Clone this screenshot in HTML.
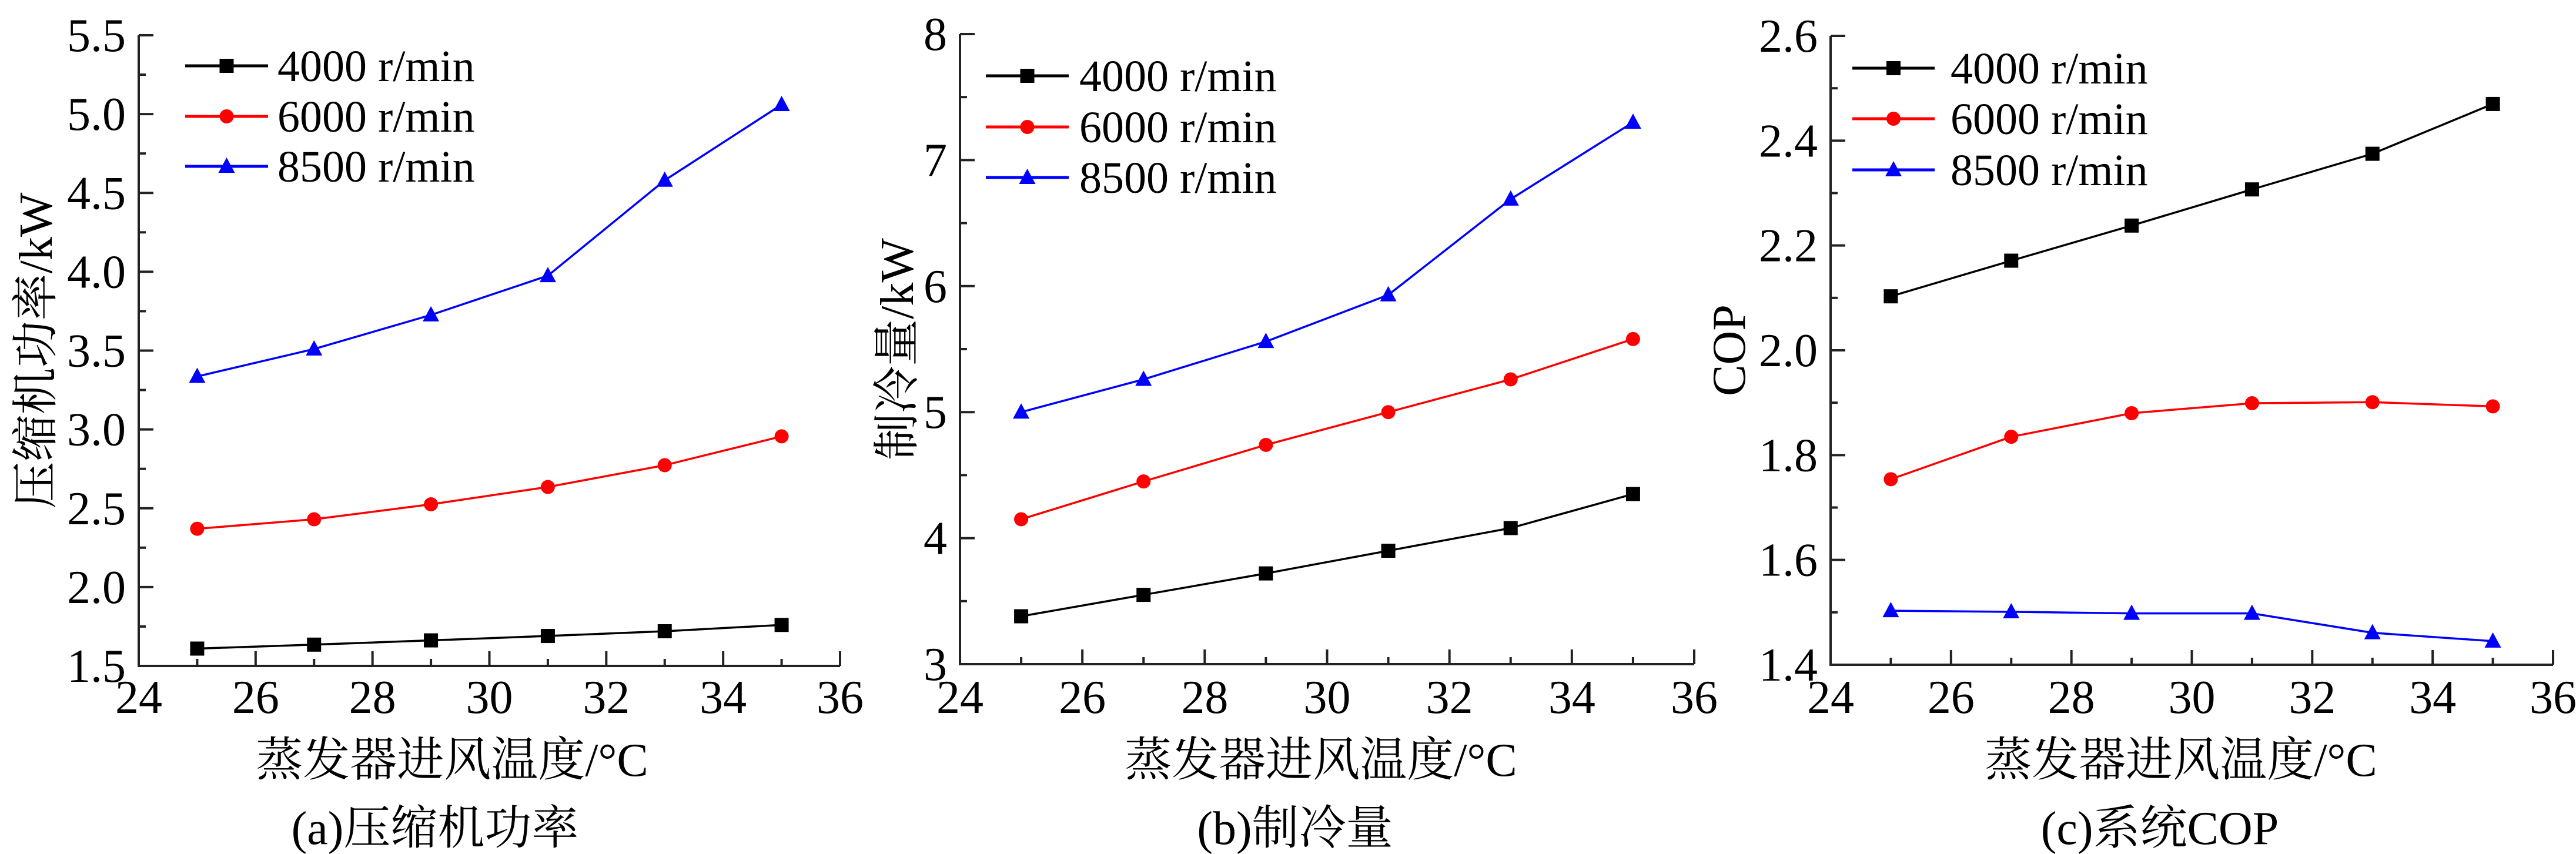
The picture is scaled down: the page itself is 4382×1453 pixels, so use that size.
<!DOCTYPE html>
<html><head><meta charset="utf-8">
<style>
html,body{margin:0;padding:0;background:#fff;}
svg{display:block;}
text{font-family:"Liberation Serif","Noto Serif CJK SC",serif;fill:#000;}
</style></head>
<body>
<svg id="fig" width="4382" height="1453" viewBox="0 0 4382 1453" xmlns="http://www.w3.org/2000/svg" font-family="'Liberation Serif','Noto Serif CJK SC',serif"></svg>
<script>
const temps = [25, 27, 29, 31, 33, 35];
const seriesNames = ["4000 r/min", "6000 r/min", "8500 r/min"];
const powerLow = [1.61, 1.635, 1.662, 1.69, 1.72, 1.76];
const powerMid = [2.37, 2.43, 2.525, 2.635, 2.773, 2.956];
const powerHigh = [3.336, 3.51, 3.726, 3.975, 4.58, 5.06];
const coolLow = [3.38, 3.55, 3.72, 3.9, 4.08, 4.35];
const coolMid = [4.15, 4.45, 4.74, 5.0, 5.26, 5.58];
const coolHigh = [5.0, 5.26, 5.56, 5.93, 6.69, 7.3];
const copLow = [2.103, 2.171, 2.238, 2.307, 2.375, 2.47];
const copMid = [1.754, 1.835, 1.88, 1.899, 1.901, 1.893];
const copHigh = [1.503, 1.501, 1.498, 1.498, 1.461, 1.445];
const xTickLabels = ["24", "26", "28", "30", "32", "34", "36"];
const yTicksA = ["1.5", "2.0", "2.5", "3.0", "3.5", "4.0", "4.5", "5.0", "5.5"];
const yTicksB = ["3", "4", "5", "6", "7", "8"];
const yTicksC = ["1.4", "1.6", "1.8", "2.0", "2.2", "2.4", "2.6"];

const NS = "http://www.w3.org/2000/svg";
const FONT = "'Liberation Serif','Noto Serif CJK SC',serif";
const svg = document.getElementById('fig');
function mk(tag, attrs, parent) {
  const e = document.createElementNS(NS, tag);
  for (const k in attrs) e.setAttribute(k, attrs[k]);
  if (tag === 'text') e.setAttribute('font-family', FONT);
  (parent || svg).appendChild(e);
  return e;
}
const colors = ["#000000", "#ff0000", "#0000ff"];

const panels = [
  {id:"a", x0:236, x1:1429, y0:1133, y1:60, ymin:1.5, ymax:5.5, ticks:yTicksA, data:[powerLow,powerMid,powerHigh],
   ytitle:"压缩机功率/kW", ytx:60, xtc:769, cap:"(a)压缩机功率", capc:740,
   leg:{l1:315,l2:456,tx:472,rows:[112,198,283]}},
  {id:"b", x0:1633, x1:2882, y0:1130, y1:58, ymin:3, ymax:8, ticks:yTicksB, data:[coolLow,coolMid,coolHigh],
   ytitle:"制冷量/kW", ytx:1525, xtc:2247, cap:"(b)制冷量", capc:2203,
   leg:{l1:1677,l2:1818,tx:1836,rows:[129,216,302]}},
  {id:"c", x0:3114, x1:4343, y0:1131, y1:61, ymin:1.4, ymax:2.6, ticks:yTicksC, data:[copLow,copMid,copHigh],
   ytitle:"COP", ytx:2940, xtc:3710, cap:"(c)系统COP", capc:3674,
   leg:{l1:3151,l2:3291,tx:3318,rows:[116,202,289]}}
];

function marker(g, i, cx, cy, name) {
  let m;
  if (i === 0) m = mk('rect', {x:cx-12, y:cy-12, width:24, height:24, fill:colors[0]}, g);
  else if (i === 1) m = mk('circle', {cx:cx, cy:cy, r:12, fill:colors[1]}, g);
  else m = mk('polygon', {points:`${cx},${cy-15} ${cx+14},${cy+11} ${cx-14},${cy+11}`, fill:colors[2]}, g);
  
  
}

panels.forEach(p => {
  const g = mk('g', {});
  
  
  const xs = v => p.x0 + (v - 24) / 12 * (p.x1 - p.x0);
  const ys = v => p.y0 - (v - p.ymin) / (p.ymax - p.ymin) * (p.y0 - p.y1);

  const ax = mk('path', {d:`M${p.x0},${p.y1} L${p.x0},${p.y0} L${p.x1},${p.y0}`, fill:'none', stroke:'#222', 'stroke-width':4}, g);
  
  

  for (let t = 24; t <= 36; t++) {
    const X = xs(t);
    const len = (t % 2 === 0) ? 25 : 12;
    if (t > 24) mk('line', {x1:X, y1:p.y0, x2:X, y2:p.y0 - len, stroke:'#222', 'stroke-width':4}, g);
  }
  xTickLabels.forEach(lab => {
    const v = parseFloat(lab);
    const tx = mk('text', {x:xs(v), y:1213, 'font-size':80, 'text-anchor':'middle'}, g);
    tx.textContent = lab;
    
    
  });
  const vals = p.ticks.map(parseFloat);
  const step = vals[1] - vals[0];
  vals.forEach((v, k) => {
    const Y = ys(v);
    if (k > 0) mk('line', {x1:p.x0, y1:Y, x2:p.x0 + 25, y2:Y, stroke:'#222', 'stroke-width':4}, g);
    if (k < vals.length - 1) {
      const Ym = ys(v + step / 2);
      mk('line', {x1:p.x0, y1:Ym, x2:p.x0 + 12, y2:Ym, stroke:'#222', 'stroke-width':4}, g);
    }
    const tx = mk('text', {x:p.x0 - 22, y:Y + 27, 'font-size':80, 'text-anchor':'end'}, g);
    tx.textContent = p.ticks[k];
    
    
  });

  p.data.forEach((arr, i) => {
    const sg = mk('g', {}, g);
    
    
    const pts = arr.map((v, j) => xs(temps[j]) + ',' + ys(v)).join(' ');
    const pl = mk('polyline', {points:pts, fill:'none', stroke:colors[i], 'stroke-width':3.5}, sg);
    
    
    arr.forEach((v, j) => marker(sg, i, xs(temps[j]), ys(v), 'data-point'));
  });

  const lg = mk('g', {}, g);
  
  
  seriesNames.forEach((nm, i) => {
    const Y = p.leg.rows[i];
    const l = mk('line', {x1:p.leg.l1, y1:Y, x2:p.leg.l2, y2:Y, stroke:colors[i], 'stroke-width':5}, lg);
    
    
    marker(lg, i, (p.leg.l1 + p.leg.l2) / 2, Y, 'legend-marker');
    const tx = mk('text', {x:p.leg.tx, y:Y + 26, 'font-size':76}, lg);
    tx.textContent = nm;
    
    
  });

  const yc = (p.y0 + p.y1) / 2;
  const yt = mk('text', {x:0, y:0, 'font-size':80, 'text-anchor':'middle', transform:`translate(${p.ytx + 28},${yc}) rotate(-90)`}, g);
  yt.textContent = p.ytitle;
  
  
  const xt = mk('text', {x:p.xtc, y:1320, 'font-size':80, 'text-anchor':'middle'}, g);
  xt.textContent = "蒸发器进风温度/°C";
  
  
  const cp = mk('text', {x:p.capc, y:1436, 'font-size':80, 'text-anchor':'middle'}, g);
  cp.textContent = p.cap;
  
  
});
</script>
</body></html>
